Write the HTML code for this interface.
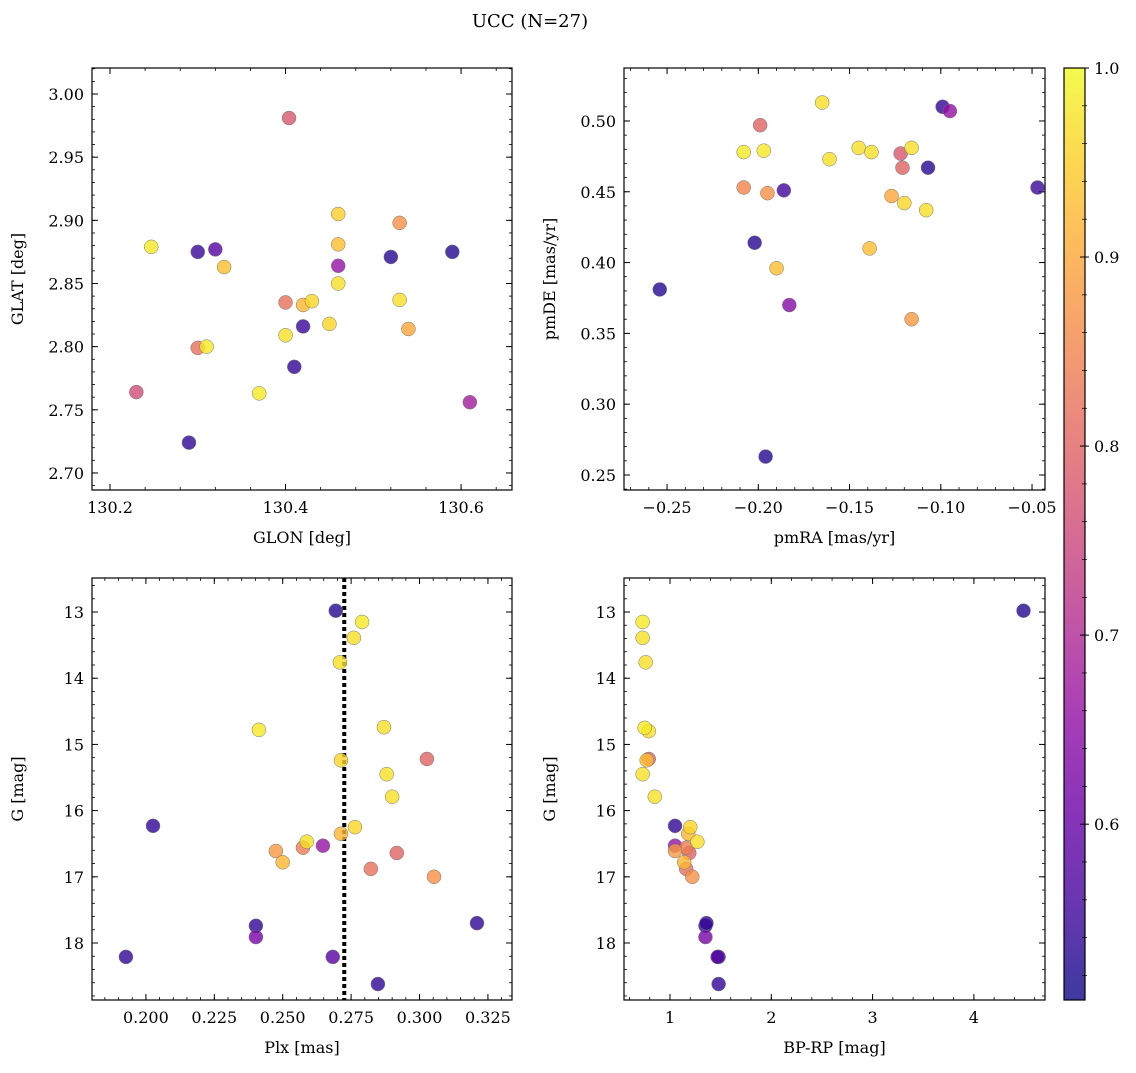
<!DOCTYPE html>
<html><head><meta charset="utf-8"><style>
body{margin:0;background:#fff;}
svg text{font-family:"DejaVu Serif","Liberation Serif",serif;fill:#000;}
</style></head><body>
<svg id="fig" width="1136" height="1068" xmlns="http://www.w3.org/2000/svg">
<defs>
<linearGradient id="cbg" x1="0" y1="1" x2="0" y2="0"></linearGradient>
</defs>
<text x="530" y="27" text-anchor="middle" font-size="18">UCC (N=27)</text>
</svg>
<script>
// Panel 1: GLON vs GLAT
const p1x=[130.404,130.247,130.30,130.32,130.33,130.46,130.53,130.46,130.46,130.52,130.59,130.40,130.42,130.43,130.46,130.53,130.54,130.42,130.45,130.40,130.30,130.31,130.41,130.37,130.23,130.61,130.29];
const p1y=[2.981,2.879,2.875,2.877,2.863,2.905,2.898,2.881,2.864,2.871,2.875,2.835,2.833,2.836,2.850,2.837,2.814,2.816,2.818,2.809,2.799,2.800,2.784,2.763,2.764,2.756,2.724];
const p1c=[0.78,0.98,0.55,0.58,0.93,0.95,0.87,0.93,0.66,0.53,0.53,0.82,0.92,0.96,0.97,0.97,0.90,0.55,0.96,0.97,0.82,0.98,0.54,0.98,0.76,0.68,0.54];
// Panel 2: pmRA vs pmDE
const p2x=[-0.165,-0.099,-0.095,-0.199,-0.208,-0.197,-0.145,-0.138,-0.116,-0.161,-0.122,-0.121,-0.107,-0.047,-0.208,-0.195,-0.186,-0.127,-0.120,-0.108,-0.202,-0.139,-0.190,-0.254,-0.183,-0.116,-0.196];
const p2y=[0.513,0.510,0.507,0.497,0.478,0.479,0.481,0.478,0.481,0.473,0.477,0.467,0.467,0.453,0.453,0.449,0.451,0.447,0.442,0.437,0.414,0.410,0.396,0.381,0.370,0.360,0.263];
const p2c=[0.97,0.54,0.66,0.80,0.98,0.98,0.97,0.97,0.97,0.97,0.78,0.80,0.53,0.55,0.85,0.87,0.56,0.90,0.96,0.97,0.53,0.93,0.93,0.53,0.64,0.88,0.53];
// Panel 3: Plx vs G
const p3x=[0.2694,0.279,0.276,0.2709,0.2413,0.287,0.2713,0.3027,0.288,0.290,0.2026,0.2764,0.2713,0.2588,0.2647,0.2574,0.2475,0.2500,0.2917,0.2822,0.3053,0.2402,0.2402,0.3210,0.1927,0.2683,0.2848];
const p3y=[12.98,13.15,13.39,13.76,14.78,14.74,15.24,15.22,15.45,15.79,16.23,16.25,16.35,16.47,16.53,16.56,16.61,16.78,16.64,16.88,17.00,17.74,17.91,17.70,18.21,18.21,18.62];
const p3c=[0.53,0.98,0.97,0.97,0.98,0.97,0.96,0.80,0.97,0.97,0.54,0.96,0.92,0.97,0.66,0.84,0.88,0.92,0.80,0.82,0.87,0.54,0.62,0.54,0.54,0.58,0.54];
// Panel 4: BP-RP vs G
const p4x=[4.49,0.73,0.73,0.76,0.75,0.79,0.79,0.77,0.73,0.85,1.05,1.20,1.18,1.27,1.05,1.05,1.16,1.19,1.14,1.16,1.22,1.35,1.36,1.35,1.47,1.48,1.48];
const p4y=[12.98,13.15,13.39,13.76,14.75,14.80,15.22,15.24,15.45,15.79,16.23,16.25,16.35,16.47,16.53,16.61,16.56,16.64,16.78,16.88,17.00,17.74,17.70,17.91,18.21,18.21,18.62];
const p4c=[0.53,0.98,0.97,0.97,0.98,0.97,0.80,0.93,0.97,0.97,0.54,0.96,0.92,0.97,0.66,0.88,0.84,0.80,0.92,0.82,0.87,0.54,0.54,0.62,0.58,0.54,0.54];
const cbTicks=[0.6,0.7,0.8,0.9,1.0];
const plxLine=0.2725;

const NS="http://www.w3.org/2000/svg";
const svg=document.getElementById('fig');
const CMIN=0.507,CMAX=1.0;
const stops=["#0d0887","#41049d","#6a00a8","#8f0da4","#b12a90","#cc4778","#e16462","#f2844b","#fca636","#fcce25","#f0f921"];
function hex(h){return [parseInt(h.substr(1,2),16),parseInt(h.substr(3,2),16),parseInt(h.substr(5,2),16)];}
function plasma(t){t=Math.max(0,Math.min(1,t));const f=t*10,i=Math.min(9,Math.floor(f)),r=f-i;const a=hex(stops[i]),b=hex(stops[i+1]);
return 'rgb('+a.map((v,k)=>Math.round(v+(b[k]-v)*r)).join(',')+')';}
function mk(tag,attrs,parent){const e=document.createElementNS(NS,tag);for(const k in attrs)e.setAttribute(k,attrs[k]);(parent||svg).appendChild(e);return e;}

function panel(o){
  const {x0,y0,w,h,xmin,xmax,ymin,ymax,inv,xs,ys,cs,xmaj,xmin_,ymaj,ymin_,xfmt,yfmt,xlabel,ylabel,name}=o;
  const sx=v=>x0+(v-xmin)/(xmax-xmin)*w;
  const sy=v=>inv? y0+(v-ymin)/(ymax-ymin)*h : y0+h-(v-ymin)/(ymax-ymin)*h;
  const g=mk('g',{});
  
  
  function ticks(lo,hi,step){const a=[];const s=Math.ceil(lo/step-1e-6);for(let i=s;i*step<=hi+1e-9;i++)a.push(+(i*step).toFixed(6));return a;}
  ticks(xmin,xmax,xmin_).forEach(v=>{const X=sx(v);mk('line',{x1:X,x2:X,y1:y0+h,y2:y0+h-3,stroke:'#000','stroke-width':0.8},g);mk('line',{x1:X,x2:X,y1:y0,y2:y0+3,stroke:'#000','stroke-width':0.8},g);});
  ticks(ymin,ymax,ymin_).forEach(v=>{const Y=sy(v);mk('line',{x1:x0,x2:x0+3,y1:Y,y2:Y,stroke:'#000','stroke-width':0.8},g);mk('line',{x1:x0+w,x2:x0+w-3,y1:Y,y2:Y,stroke:'#000','stroke-width':0.8},g);});
  ticks(xmin,xmax,xmaj).forEach(v=>{const X=sx(v);mk('line',{x1:X,x2:X,y1:y0+h,y2:y0+h-6,stroke:'#000','stroke-width':1},g);mk('line',{x1:X,x2:X,y1:y0,y2:y0+6,stroke:'#000','stroke-width':1},g);
    const t=mk('text',{x:X,y:y0+h+23,'text-anchor':'middle','font-size':16},g);t.textContent=xfmt(v);
    
    });
  ticks(ymin,ymax,ymaj).forEach(v=>{const Y=sy(v);mk('line',{x1:x0,x2:x0+6,y1:Y,y2:Y,stroke:'#000','stroke-width':1},g);mk('line',{x1:x0+w,x2:x0+w-6,y1:Y,y2:Y,stroke:'#000','stroke-width':1},g);
    const t=mk('text',{x:x0-8,y:Y+6,'text-anchor':'end','font-size':16},g);t.textContent=yfmt(v);
    
    });
  const xl=mk('text',{x:x0+w/2,y:y0+h+53,'text-anchor':'middle','font-size':16},g);xl.textContent=xlabel;
  
  
  const ylx=x0-69,yly=y0+h/2;
  const yl=mk('text',{x:ylx,y:yly,'text-anchor':'middle','font-size':16,transform:`rotate(-90 ${ylx} ${yly})`},g);yl.textContent=ylabel;
  
  
  if(o.vline!==undefined){const X=sx(o.vline);const l=mk('line',{x1:X,x2:X,y1:y0,y2:y0+h,stroke:'#000','stroke-width':4,'stroke-dasharray':'4 3'},g);
    
    }
  const idx=xs.map((_,i)=>i).sort((a,b)=>cs[a]-cs[b]);
  idx.forEach(i=>{const c=mk('circle',{cx:sx(xs[i]),cy:sy(ys[i]),r:7,fill:plasma((cs[i]-CMIN)/(CMAX-CMIN)),'fill-opacity':0.8,stroke:'#777','stroke-width':0.5},g);
    
    });
  const f=mk('rect',{x:x0,y:y0,width:w,height:h,fill:'none',stroke:'#000','stroke-width':1.2},g);
  
  
}
panel({name:'glon-glat-panel',x0:92,y0:68,w:420,h:422,xmin:130.1795,xmax:130.658,ymin:2.6865,ymax:3.0206,xs:p1x,ys:p1y,cs:p1c,xmaj:0.2,xmin_:0.04,ymaj:0.05,ymin_:0.01,xfmt:v=>v.toFixed(1),yfmt:v=>v.toFixed(2),xlabel:'GLON [deg]',ylabel:'GLAT [deg]'});
panel({name:'pm-panel',x0:624,y0:68,w:421,h:422,xmin:-0.2736,xmax:-0.0429,ymin:0.2394,ymax:0.5374,xs:p2x,ys:p2y,cs:p2c,xmaj:0.05,xmin_:0.01,ymaj:0.05,ymin_:0.01,xfmt:v=>(v<0?'\u2212':'')+Math.abs(v).toFixed(2),yfmt:v=>v.toFixed(2),xlabel:'pmRA [mas/yr]',ylabel:'pmDE [mas/yr]'});
panel({name:'plx-g-panel',x0:92,y0:578,w:420,h:422,xmin:0.1803,xmax:0.3338,ymin:12.486,ymax:18.861,inv:true,xs:p3x,ys:p3y,cs:p3c,xmaj:0.025,xmin_:0.005,ymaj:1,ymin_:0.2,xfmt:v=>v.toFixed(3),yfmt:v=>v.toFixed(0),xlabel:'Plx [mas]',ylabel:'G [mag]',vline:plxLine});
panel({name:'cmd-panel',x0:624,y0:578,w:421,h:422,xmin:0.546,xmax:4.702,ymin:12.486,ymax:18.861,inv:true,xs:p4x,ys:p4y,cs:p4c,xmaj:1,xmin_:0.2,ymaj:1,ymin_:0.2,xfmt:v=>v.toFixed(0),yfmt:v=>v.toFixed(0),xlabel:'BP-RP [mag]',ylabel:'G [mag]'});
const grad=document.getElementById('cbg');
for(let i=0;i<=10;i++){mk('stop',{offset:i/10,'stop-color':plasma(i/10)},grad);}
const cbx=1064,cby=68,cbw=21,cbh=932;
const cb=mk('rect',{x:cbx,y:cby,width:cbw,height:cbh,fill:'url(#cbg)','fill-opacity':0.8,stroke:'#000','stroke-width':1.2});


const cy=v=>cby+cbh-(v-CMIN)/(CMAX-CMIN)*cbh;
cbTicks.forEach(v=>{const Y=cy(v);mk('line',{x1:cbx+cbw-5,x2:cbx+cbw+4,y1:Y,y2:Y,stroke:'#000','stroke-width':1});
  const t=mk('text',{x:cbx+cbw+9,y:Y+6,'font-size':16});t.textContent=v.toFixed(1);
  
  });
for(let v=0.52;v<1.0;v+=0.02){const Y=cy(v);mk('line',{x1:cbx+cbw-3,x2:cbx+cbw+2,y1:Y,y2:Y,stroke:'#000','stroke-width':0.7});}
</script>
</body></html>
